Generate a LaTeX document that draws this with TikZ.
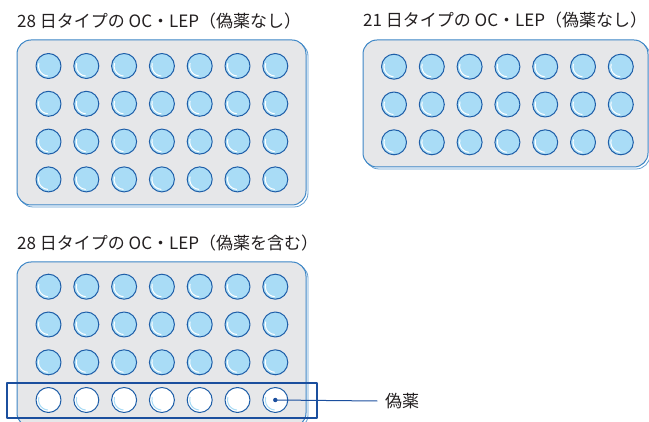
\documentclass[tikz,border=0pt]{standalone}
\usepackage{fontspec}
\setmainfont{Noto Sans CJK JP}
\definecolor{cardfill}{HTML}{E6E7E9}
\definecolor{cardline}{HTML}{3C86C6}
\definecolor{pillfill}{HTML}{A9DCF6}
\definecolor{pillline}{HTML}{1E5EA8}
\definecolor{markline}{HTML}{1B4F9E}
\definecolor{ink}{HTML}{231F20}
\begin{document}
\begin{tikzpicture}[x=1pt,y=-1pt, line join=round, line cap=round,
	font=\fontsize{17}{20}\selectfont, text=ink,
	title/.style={anchor=base west, inner sep=0pt},
	card/.style={draw=cardline, fill=cardfill, line width=1pt, rounded corners=14pt},
	cardshade/.style={draw=cardline!80, line width=0.8pt, rounded corners=14pt},
	pill/.style={circle, draw=pillline, fill=pillfill, line width=1pt, minimum size=25pt, inner sep=0pt},
	dummy/.style={pill, fill=white},
	shine/.style={white, line width=1pt}]
		\def\dx{37.8}
		\useasboundingbox (0,0) rectangle (649,422);
		\clip (0,0) rectangle (649,422);
		% titles
		\node[title] (t1) at (17,28) {28 日タイプの OC・LEP（偽薬なし）};
		\node[title] (t2) at (363,27) {21 日タイプの OC・LEP（偽薬なし）};
		\node[title] (t3) at (17,250) {28 日タイプの OC・LEP（偽薬を含む）};
		% cards
		\draw[cardshade] (19,42) rectangle (308,207);
		\draw[card] (17,40) rectangle (306,205);
		\draw[cardshade] (365,42) rectangle (650,169);
		\draw[card] (363,40) rectangle (648,167);
		\draw[cardshade] (19,264) rectangle (308,429);
		\draw[card] (17,262) rectangle (306,427);
		% pills
		\foreach \r in {1,...,4} \foreach \c in {1,...,7}{
			\node[pill] (a-\r-\c) at ({48.5+(\c-1)*\dx},{66+(\r-1)*\dx}) {};
			\draw[shine] (a-\r-\c.center) ++(95:10) arc (95:195:10);
		}
		\foreach \r in {1,...,3} \foreach \c in {1,...,7}{
			\node[pill] (b-\r-\c) at ({394+(\c-1)*\dx},{66.7+(\r-1)*\dx}) {};
			\draw[shine] (b-\r-\c.center) ++(95:10) arc (95:195:10);
		}
		\foreach \r in {1,...,3} \foreach \c in {1,...,7}{
			\node[pill] (c-\r-\c) at ({48.5+(\c-1)*\dx},{286.7+(\r-1)*\dx}) {};
			\draw[shine] (c-\r-\c.center) ++(95:10) arc (95:195:10);
		}
		\foreach \c in {1,...,7}{
			\node[dummy] (c-4-\c) at ({48.5+(\c-1)*\dx},400) {};
			\draw[shine, pillfill] (c-4-\c.center) ++(95:10) arc (95:195:10);
		}
		% placebo row
		\draw[markline, line width=1.2pt] (7,383) rectangle (317,418);
		\fill[markline] (c-4-7.center) circle (2.2);
		\node[anchor=west, inner sep=0pt] (lbl) at (385,401) {偽薬};
		\draw[markline, line width=1pt] (c-4-7.center) -- ([xshift=-8pt]lbl.west);
\end{tikzpicture}
\end{document}
